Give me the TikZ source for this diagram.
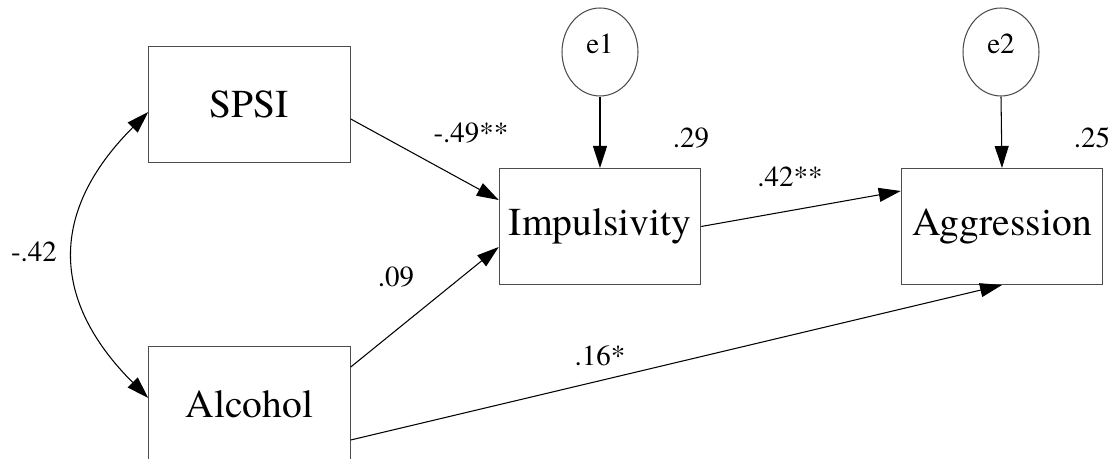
\documentclass[tikz,border=0pt]{standalone}
\usepackage{fontspec}
\setmainfont{TeX Gyre Termes}
\usetikzlibrary{arrows.meta, positioning, shapes.geometric}
\tikzset{
  var/.style={draw=black!70, line width=0.6pt, minimum width=4.03cm, minimum height=2.32cm, inner sep=0pt, font=\rmfamily\fontsize{22.5}{24}\selectfont},
  err/.style={draw=black!70, line width=0.6pt, ellipse, minimum width=1.52cm, minimum height=1.76cm, inner sep=0pt, font=\rmfamily\fontsize{16.5}{18}\selectfont},
  lbl/.style={inner sep=0pt, font=\rmfamily\fontsize{16.5}{18}\selectfont},
  path/.style={line width=0.6pt, -{Triangle[length=0.44cm,width=0.28cm]}},
  cov/.style={line width=0.6pt, {Triangle[length=0.44cm,width=0.28cm]}-{Triangle[length=0.44cm,width=0.28cm]}}
}

\begin{document}
\begin{tikzpicture}[x=0.02cm, y=0.02cm]
\useasboundingbox (0,0) rectangle (1117,459);
\clip (0,0) rectangle (1117,459);

% observed variables
\node[var] (spsi) at (249.5,354.5) {SPSI};
\node[var] (alc) at (249.5,54.5) {Alcohol};
\node[var] (imp) at (600,232.5) {Impulsivity};
\node[var] (agg) at (1002,232.5) {Aggression};

% error terms
\node[err] (e1) at (600,407) {\raisebox{0.34cm}{e1}};
\node[err] (e2) at (1001,407) {\raisebox{0.34cm}{e2}};

% paths
\draw[path] ([yshift=-0.29cm]spsi.east) -- ([yshift=0.53cm]imp.west);
\draw[path] ([yshift=0.75cm]alc.east) -- ([yshift=-0.41cm]imp.west);
\draw[path] (imp.east) -- ([yshift=0.71cm]agg.west);
\draw[path] ([yshift=-0.71cm]alc.east) -- (agg.south);
\draw[path] (e1.south) -- (imp.north);
\draw[path] (e2.south) -- (agg.north);
\draw[cov] ([yshift=-0.15cm]spsi.west) to[out=225,in=135,looseness=1.25] ([yshift=0.13cm]alc.west);

% estimates
\node[lbl] (b1) at (471,326) {-.49**};
\node[lbl] (b2) at (396,182) {.09};
\node[lbl] (b3) at (790,282) {.42**};
\node[lbl] (b4) at (600,103) {.16*};
\node[lbl] (r1) at (34,207) {-.42};
\node[lbl] (s1) at (691,321) {.29};
\node[lbl] (s2) at (1092,321) {.25};
\end{tikzpicture}
\end{document}
